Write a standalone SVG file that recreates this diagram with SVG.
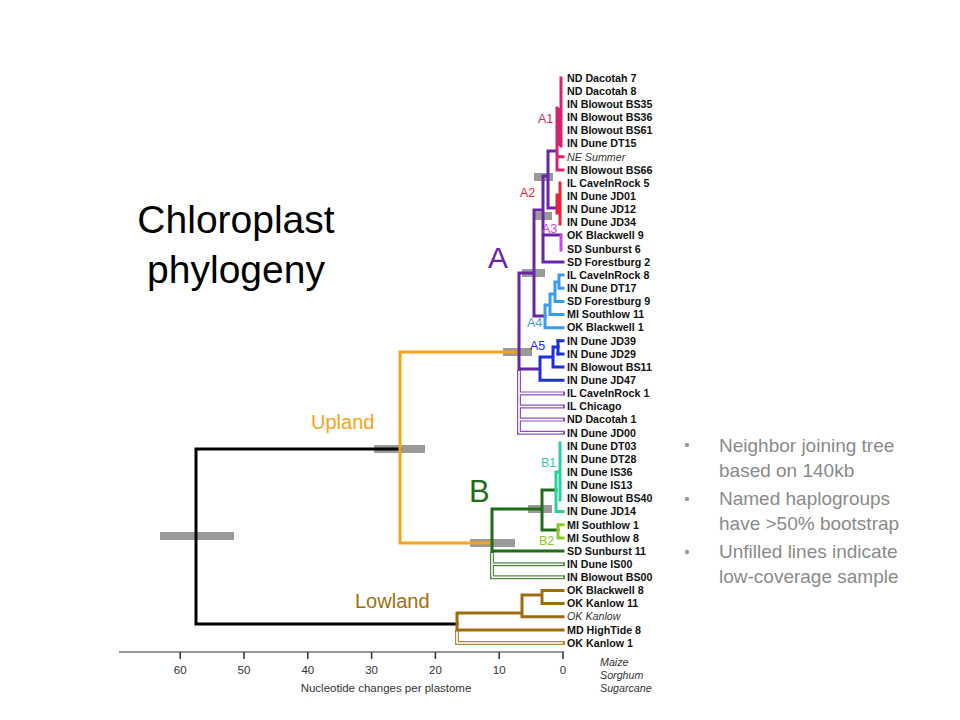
<svg xmlns="http://www.w3.org/2000/svg" width="960" height="720" viewBox="0 0 960 720">
<style>
.tip{font-family:"Liberation Sans",Arial,sans-serif;font-size:10.7px;font-weight:bold;fill:#111}
.it{font-weight:normal;font-style:italic;fill:#333}
.br{fill:none;stroke-width:3;stroke-linecap:square;stroke-linejoin:miter}
.uo{fill:none;stroke-width:4;stroke-linecap:square}
.ui{fill:none;stroke:#fff;stroke-width:1.6;stroke-linecap:butt}
.bar{fill:#8f8f8f;opacity:0.9}
.cl{font-family:"Liberation Sans",Arial,sans-serif;font-size:12.5px}
.big{font-family:"Liberation Sans",Arial,sans-serif}
.ax{font-family:"Liberation Sans",Arial,sans-serif;font-size:11.5px;fill:#333;text-anchor:middle}
.bul{font-family:"Liberation Sans",Arial,sans-serif;font-size:19px;fill:#8a8a8a}
.dot{fill:#9a9a9a}
</style>
<rect width="960" height="720" fill="#fff"/>

<g id="title">
<text class="big" x="236" y="233" font-size="39" text-anchor="middle" fill="#000">Chloroplast</text>
<text class="big" x="236" y="283" font-size="39" text-anchor="middle" fill="#000">phylogeny</text>
</g>

<g id="bootstrap-bars">
<rect class="bar" x="160" y="532" width="74" height="8"/>
<rect class="bar" x="374" y="445" width="51" height="8"/>
<rect class="bar" x="503" y="348" width="29" height="8"/>
<rect class="bar" x="534" y="173" width="19" height="8"/>
<rect class="bar" x="533" y="212" width="19" height="8"/>
<rect class="bar" x="522" y="269" width="23" height="8"/>
<rect class="bar" x="470" y="539" width="45" height="8"/>
<rect class="bar" x="528" y="505" width="24" height="8"/>
</g>

<g id="connectors">
<path class="uo" stroke="#8a4fc0" d="M519,372 V432.8 M519,393.4 H563 M519,406.5 H563 M519,419.6 H563 M519,432.8 H563"/>
<path class="ui" d="M519,371 V432.8 M519,393.4 H563 M519,406.5 H563 M519,419.6 H563 M519,432.8 H563"/>
<path class="uo" stroke="#4e8a40" d="M492,554 V577.3 M492,564.2 H563 M492,577.3 H563"/>
<path class="ui" d="M492,553 V577.3 M492,564.2 H563 M492,577.3 H563"/>
<path class="uo" stroke="#b08a3a" d="M457,632 V643 H563"/>
<path class="ui" d="M457,631 V643 H563"/>

<path class="br" stroke="#000" d="M400,449 H196 V624 H457"/>
<path class="br" stroke="#f5a31a" d="M491,543 H400 V352 H518"/>
<path class="br" stroke="#6a24a6" d="M519,273 V369 M519,273 H534 M534,210 V316 M534,210 H543 M543,176 V262 M543,176 H548 M548,151 V208 M548,151 H556 M548,208 H556 M543,235 H560 M543,262 H563 M534,316 H545 M519,369 H539"/>
<path class="br" stroke="#d1266f" stroke-width="2.5" d="M561,78 V146 M557,108 V170 M557,156.8 H563 M557,170 H563"/>
<rect x="556" y="108" width="5" height="38" fill="#d1266f"/>
<path class="br" stroke="#ee2233" d="M560,183 V224 M557,195 V213"/>
<path class="br" stroke="#c04ed8" d="M561,235 V250"/>
<path class="br" stroke="#3a9cf0" stroke-width="2.6" d="M545,305 V327.7 H563 M545,305 H550 M550,294 V314.5 H563 M550,294 H555 M555,282 V301.4 H563 M555,282 H559 M559,275.1 V288.2 M559,275.1 H563 M559,288.2 H563"/>
<path class="br" stroke="#1d2fe0" d="M540,357 V380.2 H563 M540,357 H553 M553,347 V367.1 H563 M553,347 H558 M558,340.8 H563 M558,353.9 H563"/>
<path class="br" stroke="#1d2fe0" stroke-width="4.5" d="M558,340.8 V353.9"/>
<path class="br" stroke="#1f6e17" d="M492,509 V551 H563 M492,509 H542 M542,490 V530 M542,490 H556 M542,530 H558"/>
<path class="br" stroke="#2dcf9f" d="M560,443 V500 M556,472 V511.6 H563 M556,472 H560"/>
<path class="br" stroke="#8dc926" stroke-width="2.5" d="M558,524.8 V537.9 M558,524.8 H563 M558,537.9 H563"/>
<path class="br" stroke="#9e6b0e" d="M457,613 V629.9 H563 M457,613 H522 M522,595 V616.7 H563 M522,595 H542 M542,590.5 V603.6 M542,590.5 H563 M542,603.6 H563"/>
</g>

<g id="clade-labels">
<text class="big" x="488" y="268" font-size="30" fill="#6a24a6">A</text>
<text class="big" x="469" y="502" font-size="31" fill="#1f6e17">B</text>
<text class="big" x="311" y="429" font-size="20" fill="#f5a31a">Upland</text>
<text class="big" x="355" y="608" font-size="20" fill="#a0700e">Lowland</text>
<text class="cl" x="538" y="123" fill="#d1266f">A1</text>
<text class="cl" x="520" y="197" fill="#ee2233">A2</text>
<text class="cl" x="542" y="232.5" fill="#c04ed8">A3</text>
<text class="cl" x="527" y="327" fill="#3a9cf0">A4</text>
<text class="cl" x="530" y="350" fill="#1d2fe0">A5</text>
<text class="cl" x="541" y="467" fill="#2dcf9f">B1</text>
<text class="cl" x="539" y="545" fill="#8dc926">B2</text>
</g>

<g id="tips">
<g id="t0"><text class="tip" x="567" y="81.7">ND Dacotah 7</text></g>
<g id="t1"><text class="tip" x="567" y="94.8">ND Dacotah 8</text></g>
<g id="t2"><text class="tip" x="567" y="108">IN Blowout BS35</text></g>
<g id="t3"><text class="tip" x="567" y="121.1">IN Blowout BS36</text></g>
<g id="t4"><text class="tip" x="567" y="134.3">IN Blowout BS61</text></g>
<g id="t5"><text class="tip" x="567" y="147.4">IN Dune DT15</text></g>
<g id="t6"><text class="tip it" x="567" y="160.5">NE Summer</text></g>
<g id="t7"><text class="tip" x="567" y="173.7">IN Blowout BS66</text></g>
<g id="t8"><text class="tip" x="567" y="186.8">IL CaveInRock 5</text></g>
<g id="t9"><text class="tip" x="567" y="200">IN Dune JD01</text></g>
<g id="t10"><text class="tip" x="567" y="213.1">IN Dune JD12</text></g>
<g id="t11"><text class="tip" x="567" y="226.2">IN Dune JD34</text></g>
<g id="t12"><text class="tip" x="567" y="239.4">OK Blackwell 9</text></g>
<g id="t13"><text class="tip" x="567" y="252.5">SD Sunburst 6</text></g>
<g id="t14"><text class="tip" x="567" y="265.7">SD Forestburg 2</text></g>
<g id="t15"><text class="tip" x="567" y="278.8">IL CaveInRock 8</text></g>
<g id="t16"><text class="tip" x="567" y="291.9">IN Dune DT17</text></g>
<g id="t17"><text class="tip" x="567" y="305.1">SD Forestburg 9</text></g>
<g id="t18"><text class="tip" x="567" y="318.2">MI Southlow 11</text></g>
<g id="t19"><text class="tip" x="567" y="331.4">OK Blackwell 1</text></g>
<g id="t20"><text class="tip" x="567" y="344.5">IN Dune JD39</text></g>
<g id="t21"><text class="tip" x="567" y="357.6">IN Dune JD29</text></g>
<g id="t22"><text class="tip" x="567" y="370.8">IN Blowout BS11</text></g>
<g id="t23"><text class="tip" x="567" y="383.9">IN Dune JD47</text></g>
<g id="t24"><text class="tip" x="567" y="397.1">IL CaveInRock 1</text></g>
<g id="t25"><text class="tip" x="567" y="410.2">IL Chicago</text></g>
<g id="t26"><text class="tip" x="567" y="423.3">ND Dacotah 1</text></g>
<g id="t27"><text class="tip" x="567" y="436.5">IN Dune JD00</text></g>
<g id="t28"><text class="tip" x="567" y="449.6">IN Dune DT03</text></g>
<g id="t29"><text class="tip" x="567" y="462.8">IN Dune DT28</text></g>
<g id="t30"><text class="tip" x="567" y="475.9">IN Dune IS36</text></g>
<g id="t31"><text class="tip" x="567" y="489">IN Dune IS13</text></g>
<g id="t32"><text class="tip" x="567" y="502.2">IN Blowout BS40</text></g>
<g id="t33"><text class="tip" x="567" y="515.3">IN Dune JD14</text></g>
<g id="t34"><text class="tip" x="567" y="528.5">MI Southlow 1</text></g>
<g id="t35"><text class="tip" x="567" y="541.6">MI Southlow 8</text></g>
<g id="t36"><text class="tip" x="567" y="554.7">SD Sunburst 11</text></g>
<g id="t37"><text class="tip" x="567" y="567.9">IN Dune IS00</text></g>
<g id="t38"><text class="tip" x="567" y="581">IN Blowout BS00</text></g>
<g id="t39"><text class="tip" x="567" y="594.2">OK Blackwell 8</text></g>
<g id="t40"><text class="tip" x="567" y="607.3">OK Kanlow 11</text></g>
<g id="t41"><text class="tip it" x="567" y="620.4">OK Kanlow</text></g>
<g id="t42"><text class="tip" x="567" y="633.6">MD HighTide 8</text></g>
<g id="t43"><text class="tip" x="567" y="646.7">OK Kanlow 1</text></g>
</g>

<g id="axis">
<path d="M119,652 H564" stroke="#333" stroke-width="1" fill="none"/>
<path d="M563,652 V659 M499.2,652 V659 M435.4,652 V659 M371.6,652 V659 M307.8,652 V659 M244,652 V659 M180.2,652 V659" stroke="#333" stroke-width="1.5" fill="none"/>
<text class="ax" x="563" y="674">0</text>
<text class="ax" x="499.2" y="674">10</text>
<text class="ax" x="435.4" y="674">20</text>
<text class="ax" x="371.6" y="674">30</text>
<text class="ax" x="307.8" y="674">40</text>
<text class="ax" x="244" y="674">50</text>
<text class="ax" x="180.2" y="674">60</text>
<text class="ax" x="386" y="692" font-size="12">Nucleotide changes per plastome</text>
</g>

<g id="outgroup">
<text class="tip it" x="600" y="666">Maize</text>
<text class="tip it" x="600" y="679">Sorghum</text>
<text class="tip it" x="600" y="692">Sugarcane</text>
</g>

<g id="notes">
<circle class="dot" cx="687" cy="445" r="2.2"/>
<text class="bul" x="719" y="452">Neighbor joining tree</text>
<text class="bul" x="719" y="477">based on 140kb</text>
<circle class="dot" cx="687" cy="499" r="2.2"/>
<text class="bul" x="719" y="505">Named haplogroups</text>
<text class="bul" x="719" y="530">have &gt;50% bootstrap</text>
<circle class="dot" cx="687" cy="552" r="2.2"/>
<text class="bul" x="719" y="558">Unfilled lines indicate</text>
<text class="bul" x="719" y="583">low-coverage sample</text>
</g>
</svg>
